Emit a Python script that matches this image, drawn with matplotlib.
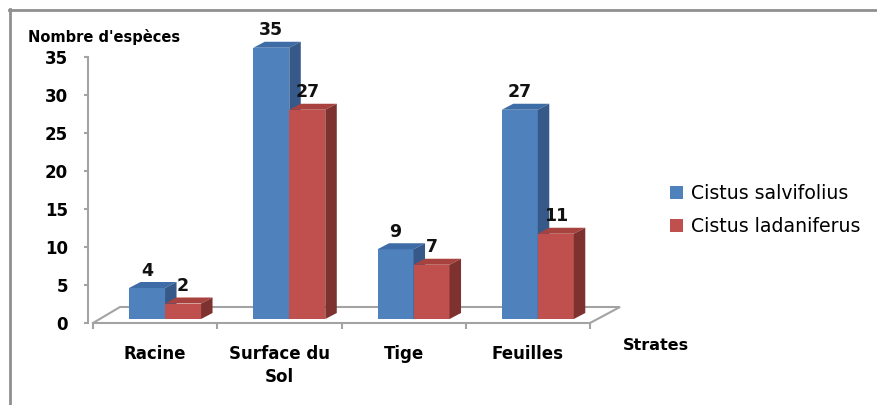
import matplotlib
matplotlib.use("Agg")
import matplotlib.pyplot as plt
from matplotlib.patches import Polygon, Patch
from matplotlib.lines import Line2D

categories = ["Racine", "Surface du\nSol", "Tige", "Feuilles"]
salvifolius = [4, 35, 9, 27]
ladaniferus = [2, 27, 7, 11]
series_names = ["Cistus salvifolius", "Cistus ladaniferus"]
yticks = [0, 5, 10, 15, 20, 25, 30, 35]

FONT = "DejaVu Sans"
plt.rcParams["font.family"] = [FONT]

FW, FH = 877, 405
fig = plt.figure(figsize=(FW / 100, FH / 100), dpi=100)

# axes geometry (pixels)
left_px, right_px = 93, 590
base_px = 323
top_px = 30
L = left_px / FW
W = (right_px - left_px) / FW
B = (FH - base_px) / FH
H = (base_px - top_px) / FH
hpx = base_px - top_px

tick_scale = 7.6   # px per unit for the axis
bar_scale = 7.75   # px per unit for the bars (perspective)
bar_lift = 4       # px the bars sit above the front axis line

xunit = (right_px - left_px) / 4.0

# axis / floor axes
axt = fig.add_axes([L, B, W, H], zorder=0)
axt.patch.set_visible(False)
axt.set_xlim(-0.5, 3.5)
axt.set_ylim(0, hpx / tick_scale)
for s in ["top", "right"]:
    axt.spines[s].set_visible(False)
gray = "#a3a3a3"
axt.spines["left"].set_position(("outward", 3.6))
axt.spines["left"].set_bounds(0, 35)
axt.spines["left"].set_color(gray)
axt.spines["left"].set_linewidth(1.5)
axt.spines["bottom"].set_color(gray)
axt.spines["bottom"].set_linewidth(1.5)
axt.set_yticks(yticks)
axt.set_yticklabels([str(v) for v in yticks], fontsize=12, fontweight="bold")
axt.tick_params(axis="y", direction="out", length=3, width=1.5, color=gray, pad=11.5)
n = len(categories)
centers = list(range(n))
axt.set_xticks(centers)
axt.set_xticklabels(categories, fontsize=12, fontweight="bold")
for t in axt.get_xticklabels():
    t.set_linespacing(1.35)
axt.tick_params(axis="x", which="major", length=0, pad=16)
axt.set_xticks([c - 0.5 for c in centers] + [n - 0.5], minor=True)
axt.tick_params(axis="x", which="minor", direction="out", length=4.5, width=1.5, color=gray)

# floor back edge and side edges
fdx_l = 27 / xunit
fdx_r = 30 / xunit
fdy = 16 / tick_scale
axt.plot([-0.5, -0.5 + fdx_l, n - 0.5 + fdx_r, n - 0.5], [0, fdy, fdy, 0],
         color=gray, lw=1.5, clip_on=False, solid_joinstyle="miter")

# bar axes
axb = fig.add_axes([L, B, W, H], zorder=1)
axb.patch.set_visible(False)
axb.axis("off")
axb.set_xlim(-0.5, 3.5)
ymin = -bar_lift / bar_scale
axb.set_ylim(ymin, ymin + hpx / bar_scale)

bw = 36 / xunit
off0 = -0.21
dx = 11.5 / xunit
dy = 6 / bar_scale

colors = [
    ("#4f81bd", "#3e6ca6", "#37598a"),
    ("#c0504d", "#a8423f", "#7e3230"),
]
series = [salvifolius, ladaniferus]

for i in centers:
    for k, vals in enumerate(series):
        v = vals[i]
        x0 = i + off0 + k * bw
        front, topc, side = colors[k]
        axb.bar(x0, v, width=bw, align="edge", color=front, edgecolor="none", zorder=2 + k)
        axb.add_patch(Polygon([(x0, v), (x0 + bw, v), (x0 + bw + dx, v + dy), (x0 + dx, v + dy)],
                              closed=True, facecolor=topc, edgecolor="none", zorder=2 + k))
        axb.add_patch(Polygon([(x0 + bw, 0), (x0 + bw, v), (x0 + bw + dx, v + dy), (x0 + bw + dx, dy)],
                              closed=True, facecolor=side, edgecolor="none", zorder=2 + k))
        axb.annotate(str(v), xy=(x0 + bw / 2, v), xytext=(0, 9), textcoords="offset points",
                     ha="center", va="baseline", fontsize=12.5, fontweight="bold", color="#111111",
                     annotation_clip=False)

# texts
fig.text(28 / FW, (FH - 37) / FH, "Nombre d'espèces", fontsize=10.5, fontweight="bold",
         ha="left", va="center")
fig.text(623 / FW, (FH - 345) / FH, "Strates", fontsize=11.5, fontweight="bold",
         ha="left", va="center")

handles = [Patch(facecolor=colors[k][0], edgecolor="none") for k in range(2)]
fig.legend(handles, series_names, loc="center left", bbox_to_anchor=(670 / FW, (FH - 210) / FH),
           frameon=False, fontsize=13.6, handlelength=0.68, handleheight=0.68,
           handletextpad=0.45, labelspacing=0.78, borderpad=0, borderaxespad=0)

# outer frame (top and left edges)
fc = "#8f8f8f"
fig.add_artist(Line2D([9 / FW, 1.0], [(FH - 9.5) / FH] * 2, color=fc, lw=2, transform=fig.transFigure))
fig.add_artist(Line2D([9.5 / FW] * 2, [0, (FH - 9) / FH], color=fc, lw=2, transform=fig.transFigure))

fig.savefig("out.png", dpi=100)
